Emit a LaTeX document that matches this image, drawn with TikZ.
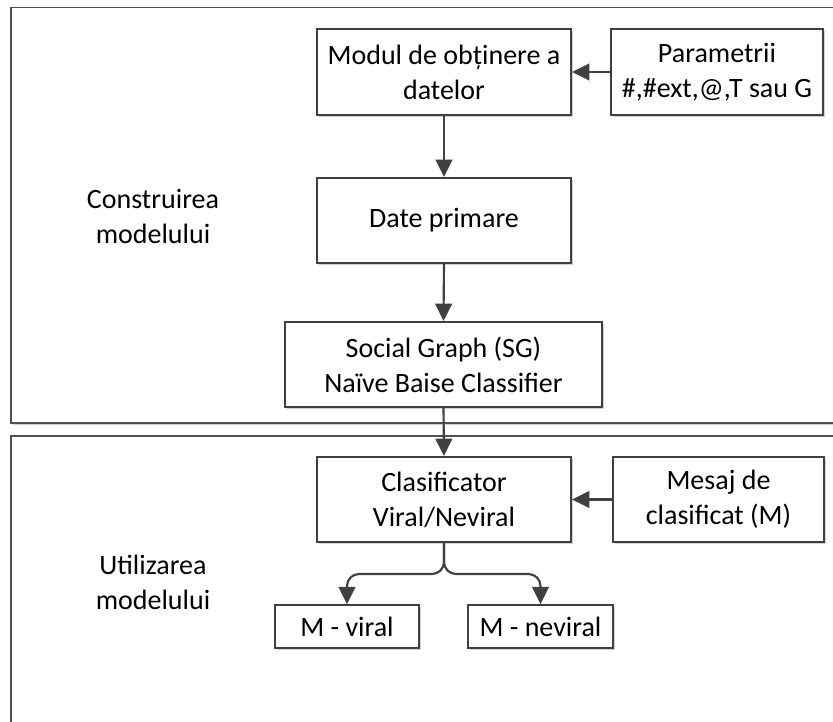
\documentclass[tikz,border=0pt]{standalone}
\usepackage{fontspec}
\setmainfont{Carlito}
\usetikzlibrary{arrows.meta,shadows}
\definecolor{ink}{HTML}{404040}
\definecolor{framegray}{HTML}{4F4F4F}
\begin{document}
\begin{tikzpicture}[x=0.75pt,y=-0.75pt,
  every node/.style={font=\fontsize{21}{26.25}\selectfont, text=black},
  softshadow/.style={drop shadow={shadow xshift=1.6pt, shadow yshift=-1.6pt, opacity=0.18, fill=black}},
  frame/.style={draw=framegray, line width=1.4pt, fill=white, softshadow},
  box/.style={draw=ink, line width=1.5pt, fill=white, align=center, inner sep=0pt, softshadow},
  lbl/.style={align=center, inner sep=0pt},
  arr/.style={draw=ink, line width=1.6pt, -{Triangle[length=13pt, width=12.5pt]}}
]
\useasboundingbox (0,0) rectangle (833,722);
\begin{scope}
  \clip (0,0) rectangle (833,722);
  % the two stage frames run off the right and bottom edges
  \draw[frame] (11,7.5) rectangle (850,423);
  \draw[frame] (11,436) rectangle (850,745);
\end{scope}

% stage labels
\node[lbl] (build) at (153,216) {Construirea\\modelului};
\node[lbl] (use)   at (153,582) {Utilizarea\\modelului};

% model construction
\node[box, minimum width=190.5pt, minimum height=64.5pt] (modul) at (444,72) {Modul de obținere a\\datelor};
\node[box, minimum width=159pt, minimum height=64.5pt] (param) at (717,72) {Parametrii\\\#,\#ext,@,T sau G};
\node[box, minimum width=190.5pt, minimum height=63.75pt] (date) at (444,220.5) {Date primare};
\node[box, minimum width=237.75pt, minimum height=63.75pt] (sg) at (443.5,364.5) {Social Graph (SG)\\Naïve Baise Classifier};

% model usage
\node[box, minimum width=190.5pt, minimum height=63.75pt] (clas) at (444,499.5) {Clasificator\\Viral/Neviral};
\node[box, minimum width=158.25pt, minimum height=63.75pt] (mesaj) at (718.5,499.5) {Mesaj de\\clasificat (M)};
\node[box, minimum width=108pt, minimum height=32.25pt] (viral) at (347,626.7) {M - viral};
\node[box, minimum width=108.75pt, minimum height=32.25pt] (neviral) at (540.5,626.7) {M - neviral};

% connectors
\draw[arr] (param.west) -- (modul.east);
\draw[arr] (modul.south) -- (date.north);
\draw[arr] (date.south) -- (sg.north);
\draw[arr] (sg.south) -- (clas.north);
\draw[arr] (mesaj.west) -- (clas.east);
\draw[arr, rounded corners=9pt] (clas.south) -- ++(0,31) -| (viral.north);
\draw[arr, rounded corners=9pt] (clas.south) -- ++(0,31) -| (neviral.north);
\end{tikzpicture}
\end{document}
